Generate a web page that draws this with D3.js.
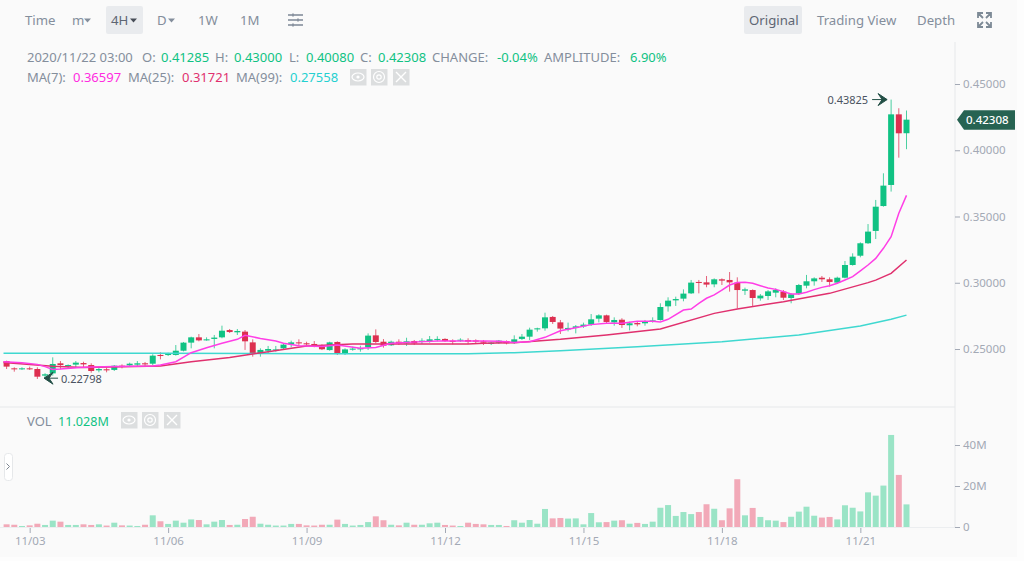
<!DOCTYPE html>
<html>
<head>
<meta charset="utf-8">
<script src="https://cdnjs.cloudflare.com/ajax/libs/d3/7.8.5/d3.min.js"></script>
<style>
  html, body { margin: 0; padding: 0; background: #fafafa; overflow: hidden; }
  text { font-family: "Noto Sans", sans-serif; }
</style>
</head>
<body>
<script>
// candles, one per 4 hours
let opens = [.2409,.2354,.2347,.2354,.2349,.2299,.2316,.2392,.2372,.2382,.2394,.2379,.2339,.2347,.2342,.2374,.2377,.2382,.2392,.2389,
  .2455,.2455,.2455,.2487,.2548,.2588,.2565,.2576,.2588,.2643,.2626,.2631,.2550,.2467,.2487,.2492,.2505,.2535,.2550,.2543,
  .2538,.2523,.2492,.2553,.2462,.2495,.2497,.2513,.2603,.2555,.2528,.2555,.2543,.2560,.2553,.2560,.2570,.2576,.2563,.2563,
  .2568,.2565,.2558,.2538,.2548,.2560,.2545,.2576,.2593,.2648,.2656,.2742,.2701,.2648,.2659,.2671,.2684,.2729,.2754,.2701,
  .2721,.2679,.2696,.2694,.2709,.2719,.2822,.2867,.2880,.2920,.3006,.3003,.2988,.3026,.3021,.3001,.2940,.2945,.2882,.2900,
  .2925,.2933,.2885,.2918,.2978,.3011,.3038,.3026,.3001,.3038,.3134,.3204,.3298,.3391,.3579,.3738,.4271,.41285]
let highs = [.2412,.2362,.2362,.2367,.2362,.2317,.2437,.2409,.2384,.2409,.2404,.2392,.2367,.2362,.2379,.2384,.2397,.2409,.2402,.2460,
  .2475,.2472,.2530,.2553,.2593,.2613,.2588,.2606,.2676,.2651,.2651,.2643,.2573,.2505,.2523,.2523,.2538,.2563,.2573,.2555,
  .2560,.2535,.2555,.2558,.2505,.2518,.2525,.2618,.2648,.2575,.2563,.2573,.2585,.2568,.2581,.2598,.2596,.2581,.2573,.2581,
  .2581,.2573,.2568,.2555,.2568,.2565,.2603,.2613,.2661,.2661,.2774,.2749,.2719,.2699,.2681,.2699,.2764,.2762,.2759,.2739,
  .2732,.2706,.2711,.2719,.2739,.2845,.2890,.2895,.2950,.3021,.3021,.3051,.3033,.3033,.3081,.3041,.2963,.2950,.2915,.2945,
  .2958,.2945,.2920,.2991,.3059,.3041,.3051,.3041,.3046,.3164,.3222,.3305,.3443,.3625,.3826,.43825,.4317,.43]
let lows = [.2349,.2329,.2342,.2342,.2274,.22798,.2299,.2347,.2354,.2362,.2362,.2321,.2324,.2324,.2334,.2354,.2367,.2372,.2372,.2379,
  .2422,.2447,.2450,.2482,.2505,.2558,.2563,.2505,.2581,.2621,.2606,.2493,.2442,.2442,.2467,.2480,.2498,.2513,.2523,.2518,
  .2513,.2492,.2487,.2455,.2455,.2487,.2480,.2492,.2543,.2510,.2523,.2530,.2523,.2530,.2538,.2548,.2558,.2553,.2535,.2553,
  .2538,.2543,.2530,.2530,.2538,.2535,.2538,.2568,.2568,.2631,.2638,.2689,.2613,.2633,.2618,.2659,.2674,.2701,.2694,.2676,
  .2659,.2641,.2671,.2676,.2699,.2714,.2782,.2825,.2860,.2915,.2920,.2966,.2966,.2983,.2933,.2807,.2908,.2825,.2865,.2870,
  .2890,.2870,.2845,.2908,.2958,.2978,.3006,.2971,.2991,.3033,.3129,.3192,.3293,.3330,.3574,.3688,.3944,.4008]
let closes = [.2367,.2349,.2354,.2349,.2291,.2309,.2387,.2379,.2379,.2397,.2384,.2334,.2349,.2339,.2374,.2367,.2389,.2392,.2384,.2450,
  .2447,.2462,.2487,.2548,.2588,.2565,.2573,.2586,.2638,.2628,.2636,.2558,.2467,.2493,.2500,.2497,.2533,.2550,.2543,.2535,
  .2530,.2498,.2550,.2462,.2497,.2503,.2505,.2601,.2553,.2525,.2555,.2543,.2558,.2543,.2563,.2573,.2576,.2560,.2553,.2570,
  .2555,.2555,.2548,.2548,.2563,.2543,.2573,.2593,.2646,.2656,.2739,.2704,.2654,.2659,.2671,.2684,.2724,.2754,.2704,.2719,
  .2681,.2694,.2686,.2709,.2716,.2817,.2865,.2877,.2918,.3001,.3001,.2986,.3026,.3016,.3003,.2945,.2950,.2885,.2903,.2935,
  .2945,.2887,.2913,.2983,.3011,.3033,.3026,.3006,.3038,.3134,.3197,.3298,.3386,.3574,.3733,.4271,.4128,.42308]
let volumes = [1.3,1.1,.5,.8,1.6,1,3.1,2.6,1,1,1.3,1,1.3,.7,2.1,.8,.7,.5,1.1,5.7,
  2.8,1.5,3.1,2.1,3.7,3.4,1.3,2.6,3.4,1,1.1,3.9,5,1.6,1.1,.7,.7,1.5,1.5,.8,
  .7,1.1,1.1,3.6,1.5,.7,1,2.4,5.2,3.3,1.1,.8,2.1,1.1,1.1,1.8,2.1,1,.7,.5,
  2.1,1.5,1.3,1,1,.5,3.3,2.1,3.4,1.6,8.8,4.2,4.4,4.1,4.2,1.3,6.8,2.3,2.4,3.1,
  3.3,1.6,2,1.5,2.6,9.4,10.7,5.4,7.3,6.3,7.3,11.1,8.9,3.3,9.1,23.3,5.7,9.3,4.9,3.3,
  3.1,2.4,5,7.5,9.9,5.5,4.6,4.9,3.7,10.6,9.4,7.6,16.9,15.3,20.2,44.9,25.4,11.03]

// moving averages, read at the candles where they bend
let ma7Idx = [-0.4,2,4,5,6,7,10,14,19,20,22,24,26,28,30,31,33,35,36,38,41,43,46,48,50,52,56,60,62,64,66,68,70,72,74,76,78,80,82,84,85,86,88,89,90,91,92,93,94,95,96,97,98,99,100,101,102,103,104,105,106,107,108,109,110,111,112,113,114,115,116,117]
let ma7 = [.2404,.2397,.2384,.2367,.2346,.2349,.2362,.2367,.2372,.2379,.2404,.2472,.2510,.2543,.2573,.2603,.2580,.2560,.2543,.2525,.2518,.2530,.2505,.2512,.2543,.2550,.2560,.2560,.2560,.2558,.2550,.2555,.2588,.2638,.2661,.2684,.2694,.2694,.2709,.2709,.2704,.2724,.2794,.2802,.2844,.2883,.2908,.2945,.2983,.3001,.3003,.2996,.2978,.2960,.2950,.2933,.2915,.2915,.2928,.2948,.2965,.2978,.2996,.3021,.3046,.3089,.3134,.3184,.3260,.3348,.3524,.36597]
let ma25Idx = [-0.4,6,10,20,24,29,34,39,45,60,62,66,72,78,85,92,95,101,107,112,113,115,117]
let ma25 = [.2399,.2370,.2360,.2372,.2404,.2435,.2480,.2523,.2538,.2538,.2543,.2548,.2573,.2606,.2651,.2769,.2802,.2857,.2920,.3001,.3020,.3071,.31721]
let ma99Idx = [-0.4,20,40,60,66,72,82,93,103,111,115,117]
let ma99 = [.2468,.2467,.2465,.2465,.2472,.2487,.2517,.2555,.2606,.2674,.2725,.27558]

let priceTicks = [0.25, 0.30, 0.35, 0.40, 0.45]
let volTicks = [0, 20, 40]
let dateIdx = [3, 21, 39, 57, 75, 93, 111]
let dateLabels = ['11/03', '11/06', '11/09', '11/12', '11/15', '11/18', '11/21']

let lastPrice = 0.42308, highPrice = 0.43825, lowPrice = 0.22798

let up = '#10c283', down = '#dd2f50', upVol = '#9ae4c6', downVol = '#f2a9b8'
let grey = '#848e9c', tickGrey = '#a3a9b5'

let width = 1024, height = 561
let svg = d3.select('body').append('svg').attr('width', width).attr('height', height).style('display', 'block')

let plotRight = 955

let xScale = d3.scaleLinear().domain([0, 117]).range([6.6, 906.5])
let yScale = d3.scaleLinear().domain([0.25, 0.45]).range([349, 84])
let volScale = d3.scaleLinear().domain([0, 40]).range([527, 445])

// page and frame
svg.append('rect').attr('width', width).attr('height', height).attr('fill', '#fafafa')
svg.append('rect').attr('x', 1017).attr('width', 7).attr('height', height).attr('fill', '#fdfdfd')
svg.append('rect').attr('y', 557).attr('width', width).attr('height', 4).attr('fill', '#fdfdfd')

svg.append('line').attr('x1', 0).attr('x2', plotRight).attr('y1', 407).attr('y2', 407).attr('stroke', '#e6e8ea')
svg.append('line').attr('x1', 0).attr('x2', plotRight).attr('y1', 527.5).attr('y2', 527.5).attr('stroke', '#eceef0')
svg.append('line').attr('x1', plotRight).attr('x2', plotRight).attr('y1', 42).attr('y2', 528).attr('stroke', '#e6e8ea')

// axes
let priceAxis = svg.append('g').attr('transform', `translate(${plotRight},0)`)
  .call(d3.axisRight(yScale).tickValues(priceTicks).tickSize(5).tickFormat(d => d.toFixed(5)))
let volAxis = svg.append('g').attr('transform', `translate(${plotRight},0)`)
  .call(d3.axisRight(volScale).tickValues(volTicks).tickSize(5).tickFormat(d => d === 0 ? '0' : d + 'M'))
let dateAxis = svg.append('g').attr('transform', 'translate(0,528)')
  .call(d3.axisBottom(xScale).tickValues(dateIdx).tickSize(5).tickFormat((d, i) => dateLabels[i]))
for (let a of [priceAxis, volAxis, dateAxis]) {
  a.select('.domain').remove()
  a.selectAll('line').attr('stroke', tickGrey)
  a.selectAll('text').attr('fill', tickGrey).style('font-size', '11.5px').style('font-family', '"Noto Sans", sans-serif')
}
priceAxis.selectAll('text').attr('x', 8)
volAxis.selectAll('text').attr('x', 8)
dateAxis.selectAll('text').attr('y', 9)

// volume bars
svg.append('g').selectAll('rect').data(volumes).enter().append('rect')
  .attr('x', (d, i) => xScale(i) - 3).attr('width', 6)
  .attr('y', d => volScale(d)).attr('height', d => volScale(0) - volScale(d))
  .attr('fill', (d, i) => closes[i] >= opens[i] ? upVol : downVol)

// candles
let candles = svg.append('g')
candles.selectAll('line').data(closes).enter().append('line')
  .attr('x1', (d, i) => xScale(i)).attr('x2', (d, i) => xScale(i))
  .attr('y1', (d, i) => yScale(highs[i])).attr('y2', (d, i) => yScale(lows[i]))
  .attr('stroke', (d, i) => d >= opens[i] ? up : down).attr('stroke-opacity', 0.75)
candles.selectAll('rect').data(closes).enter().append('rect')
  .attr('x', (d, i) => xScale(i) - 3).attr('width', 6)
  .attr('y', (d, i) => yScale(Math.max(d, opens[i])))
  .attr('height', (d, i) => Math.max(1, Math.abs(yScale(d) - yScale(opens[i]))))
  .attr('fill', (d, i) => d >= opens[i] ? up : down)

// moving averages
let maLine = (idx, vals, colour) => {
  let line = d3.line().x((d, i) => xScale(idx[i])).y(d => yScale(d))
  svg.append('path').attr('d', line(vals)).attr('fill', 'none').attr('stroke', colour).attr('stroke-width', 1.5)
}
maLine(ma99Idx, ma99, '#3fd8d0')
maLine(ma25Idx, ma25, '#e0306e')
maLine(ma7Idx, ma7, '#ff3ee6')

// high and low markers
let arrow = (x1, x2, y) => {
  let dir = x2 > x1 ? 1 : -1
  svg.append('path')
    .attr('d', `M${x1},${y}L${x2},${y}M${x2 - dir * 9},${y - 6}L${x2},${y}L${x2 - dir * 9},${y + 6}L${x2 - dir * 5},${y}Z`)
    .attr('stroke', '#234f46').attr('fill', '#234f46').attr('stroke-width', 1)
}
let label = (x, y, txt, fill, size, anchor) => svg.append('text').attr('x', x).attr('y', y)
  .attr('fill', fill).style('font-size', (size || 13) + 'px').attr('text-anchor', anchor || 'start')
  .attr('dominant-baseline', 'central').text(txt)

arrow(xScale(115) - 19, xScale(115) - 4, yScale(highPrice))
label(xScale(115) - 23, yScale(highPrice), highPrice.toFixed(5), '#4a5361', 11, 'end')
arrow(xScale(5) + 13, xScale(5) - 1, yScale(lowPrice))
label(xScale(5) + 16, yScale(lowPrice), lowPrice.toFixed(5), '#4a5361', 11)

// last price tag
let tagY = yScale(lastPrice)
svg.append('path').attr('d', `M957,${tagY}L964,${tagY - 9.5}H1015V${tagY + 10}H964Z`).attr('fill', '#276352')
label(966, tagY, lastPrice.toFixed(5), '#ffffff', 11.5).style('font-weight', 500)

// toolbar
svg.append('rect').attr('x', 106).attr('y', 6).attr('width', 37).attr('height', 28).attr('rx', 2).attr('fill', '#e9ebee')
svg.append('rect').attr('x', 744).attr('y', 6).attr('width', 58).attr('height', 28).attr('rx', 2).attr('fill', '#e9ebee')
let tools = [['Time', 25], ['m', 72], ['4H', 111], ['D', 157], ['1W', 198], ['1M', 240], ['Original', 749], ['Trading View', 817], ['Depth', 917]]
tools.forEach(t => label(t[1], 20, t[0], t[0] === 'Original' || t[0] === '4H' ? '#5e6673' : grey, 13.2))
let carets = [[84, grey], [130, '#474d57'], [168, grey]]
carets.forEach(c => svg.append('path').attr('d', `M${c[0]},18.5h7l-3.5,4z`).attr('fill', c[1]))

// settings icon
svg.append('g').attr('stroke', grey).attr('stroke-width', 1.6).selectAll('line')
  .data([15, 20, 25]).enter().append('line')
  .attr('x1', 288).attr('x2', 303).attr('y1', d => d).attr('y2', d => d)
svg.append('g').attr('stroke', grey).attr('stroke-width', 1.6).selectAll('line')
  .data([[293, 13.5], [298, 18.5], [293, 23.5]]).enter().append('line')
  .attr('x1', d => d[0]).attr('x2', d => d[0]).attr('y1', d => d[1]).attr('y2', d => d[1] + 3)
// fullscreen icon
svg.append('path').attr('fill', 'none').attr('stroke', '#7d8a96').attr('stroke-width', 1.8)
  .attr('d', 'M978,18V13H983M978,13L983,18M986,13H991V18M991,13L986,18M978,22V27H983M978,27L983,22M986,27H991V22M991,27L986,22')

// readout rows
let row1 = [['2020/11/22 03:00', 27, grey], ['O:', 142, grey], ['0.41285', 161, up], ['H:', 215, grey], ['0.43000', 234, up],
  ['L:', 289, grey], ['0.40080', 306, up], ['C:', 360, grey], ['0.42308', 378, up], ['CHANGE:', 432, grey], ['-0.04%', 497, up],
  ['AMPLITUDE:', 544, grey], ['6.90%', 630, up]]
row1.forEach(t => label(t[1], 57, t[0], t[2]))
let row2 = [['MA(7):', 27, grey], ['0.36597', 73, '#ff2be0'], ['MA(25):', 128, grey], ['0.31721', 182, '#e0306e'], ['MA(99):', 236, grey], ['0.27558', 290, '#25d0d0']]
row2.forEach(t => label(t[1], 77, t[0], t[2]))
label(27, 421, 'VOL', grey)
label(58, 421, '11.028M', up, 12.6)

// show, settings and close buttons
let iconRow = (x0, y0) => {
  [0, 21, 43].forEach((dx, i) => {
    let x = x0 + dx, cx = x + 8, cy = y0 + 8
    svg.append('rect').attr('x', x).attr('y', y0).attr('width', 16.5).attr('height', 16.5).attr('fill', '#dcdedf')
    if (i === 0) {
      svg.append('ellipse').attr('cx', cx).attr('cy', cy).attr('rx', 6).attr('ry', 4).attr('fill', 'none').attr('stroke', '#fff').attr('stroke-width', 1.2)
      svg.append('circle').attr('cx', cx).attr('cy', cy).attr('r', 1.6).attr('fill', '#fff')
    } else if (i === 1) {
      svg.append('circle').attr('cx', cx).attr('cy', cy).attr('r', 5.5).attr('fill', 'none').attr('stroke', '#fff').attr('stroke-width', 1.2)
      svg.append('circle').attr('cx', cx).attr('cy', cy).attr('r', 2.2).attr('fill', 'none').attr('stroke', '#fff').attr('stroke-width', 1.2)
    } else {
      svg.append('path').attr('d', `M${cx - 5},${cy - 5}L${cx + 5},${cy + 5}M${cx + 5},${cy - 5}L${cx - 5},${cy + 5}`).attr('stroke', '#fff').attr('stroke-width', 1.4)
    }
  })
}
iconRow(350, 69)
iconRow(121, 412)

// side panel handle
svg.append('rect').attr('x', 4.5).attr('y', 453.5).attr('width', 8).attr('height', 27).attr('rx', 3).attr('fill', '#fff').attr('stroke', '#e6e8ea')
svg.append('path').attr('d', 'M6.5,463.5L9.5,466.5L6.5,469.5').attr('fill', 'none').attr('stroke', '#7d8590')
</script>
</body>
</html>
